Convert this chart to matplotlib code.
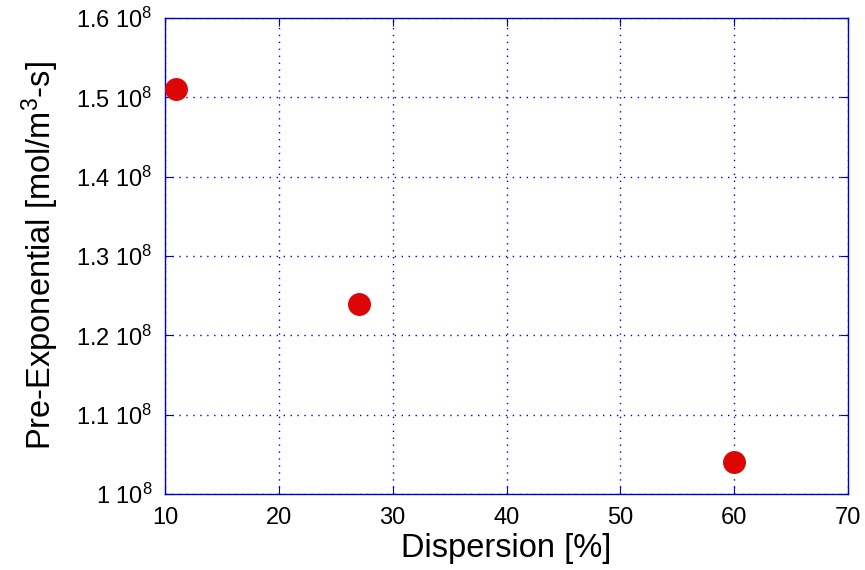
import matplotlib
matplotlib.use("Agg")
import matplotlib.pyplot as plt
from matplotlib.ticker import FuncFormatter

plt.rcParams['font.family'] = ['Liberation Sans', 'DejaVu Sans']
plt.rcParams['mathtext.fontset'] = 'custom'
plt.rcParams['mathtext.rm'] = 'Liberation Sans'
plt.rcParams['mathtext.it'] = 'Liberation Sans'

dispersion = [11, 27, 60]
pre_exponential = [1.51e8, 1.24e8, 1.04e8]
x_ticks = [10, 20, 30, 40, 50, 60, 70]
y_ticks = [1.0e8, 1.1e8, 1.2e8, 1.3e8, 1.4e8, 1.5e8, 1.6e8]

fig = plt.figure(figsize=(8.65, 5.7), dpi=100)
ax = fig.add_axes([0.1908, 0.1333, 0.7895, 0.8351])

ax.plot(dispersion, pre_exponential, linestyle='none', marker='o',
        markersize=15.5, color='#dd0606', zorder=3, clip_on=False)

ax.set_xlim(10, 70)
ax.set_ylim(1.0e8, 1.6e8)
ax.set_xticks(x_ticks)
ax.set_yticks(y_ticks)


def y_fmt(v, pos):
    m = v / 1e8
    s = f"{m:.1f}" if abs(m - round(m)) > 1e-9 else f"{int(round(m))}"
    return s + r" $10^{8}$"


ax.yaxis.set_major_formatter(FuncFormatter(y_fmt))
ax.grid(True, color='#0000dd', linestyle=(0, (1, 4)), linewidth=1.0)
for sp in ax.spines.values():
    sp.set_color('#0000cc')
    sp.set_linewidth(1.0)
ax.tick_params(axis='both', direction='in', length=6, color='#0000cc',
               labelsize=17, labelcolor='black', top=True, right=True, pad=9)

ax.set_xlabel('Dispersion [%]', fontsize=23.5, labelpad=3)
ax.set_ylabel(r'Pre-Exponential [mol/m$^{3}$-s]', fontsize=23.5, labelpad=11)

fig.savefig('out.png', dpi=100)
